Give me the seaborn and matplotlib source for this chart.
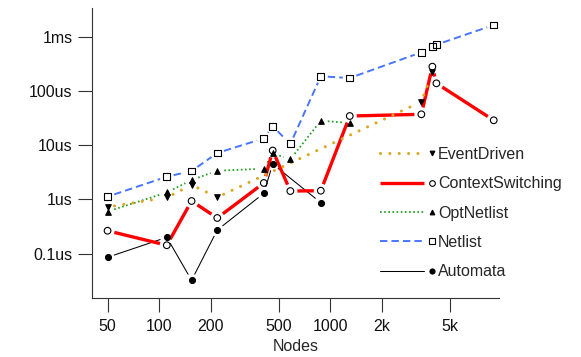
import numpy as np
import matplotlib

matplotlib.use("Agg")
import matplotlib.pyplot as plt
import matplotlib.ticker as mticker
from matplotlib.lines import Line2D
from matplotlib.legend_handler import HandlerLine2DCompound
import seaborn as sns

# simulation step time (microseconds) vs circuit size (nodes)
NODES = [50, 111, 155, 219, 410, 462, 586, 883, 1304, 3420, 3966, 4188, 9060]
NETLIST = [1.12, 2.61, 3.33, 7.15, 13.3, 22.2, 10.5, 186, 173, 515, 665, 712, 1644]
CTX_SWITCH = [0.263, 0.142, 0.93, 0.452, 2.0, 7.95, 1.42, 1.44, 34.4, 37.0, 280, 138, 28.7]
OPT_NODES = [50, 111, 155, 219, 410, 462, 586, 883, 1304]
OPT_NETLIST = [0.595, 1.335, 2.27, 3.37, 3.67, 7.0, 5.47, 28.2, 25.6]
EVENT_NODES = [50, 111, 155, 219, 3420, 3966]
EVENT_DRIVEN = [0.72, 1.08, 1.84, 1.09, 63.2, 226]
AUTOMATA_NODES = [50, 111, 155, 219, 410, 462, 883]
AUTOMATA = [0.0851, 0.199, 0.032, 0.271, 1.29, 4.48, 0.866]

X_TICKS = [50, 100, 200, 500, 1000, 2000, 5000]
X_LABELS = ["50", "100", "200", "500", "1000", "2k", "5k"]
Y_TICKS = [0.1, 1, 10, 100, 1000]
Y_LABELS = ["0.1us", "1us", "10us", "100us", "1ms"]

sns.set_theme(style="ticks")
plt.rcParams["font.family"] = ["Liberation Sans", "DejaVu Sans"]
FS = 11.5

# name -> (x, y, line kwargs, marker kwargs)
SERIES = {
    "EventDriven": (EVENT_NODES, EVENT_DRIVEN,
                    dict(color="#DAA520", lw=2.2, ls=(0, (0.01, 3.05)), dash_capstyle="round"),
                    dict(marker="v", ms=4.0, mfc="black", mec="black")),
    "ContextSwitching": (NODES, CTX_SWITCH,
                         dict(color="#FF0000", lw=2.4, ls="-", solid_capstyle="butt"),
                         dict(marker="o", ms=4.8, mfc="none", mec="black")),
    "OptNetlist": (OPT_NODES, OPT_NETLIST,
                   dict(color="#1E9E1E", lw=1.3, ls=(0, (0.9, 1.4))),
                   dict(marker="^", ms=4.0, mfc="black", mec="black")),
    "Netlist": (NODES, NETLIST,
                dict(color="#4876FF", lw=1.4, ls=(0, (3.8, 2.1))),
                dict(marker="s", ms=5.0, mfc="none", mec="black")),
    "Automata": (AUTOMATA_NODES, AUTOMATA,
                 dict(color="black", lw=0.75, ls="-"),
                 dict(marker="o", ms=4.3, mfc="black", mec="black")),
}

GAP = 7.0  # px left free around each point (R type="b")


def gapped_line(ax, xs, ys, gap, **kw):
    pts = ax.transData.transform(np.column_stack([xs, ys]))
    inv = ax.transData.inverted()
    for p0, p1 in zip(pts[:-1], pts[1:]):
        d = p1 - p0
        length = np.hypot(*d)
        if length <= 2 * gap:
            continue
        u = d / length
        seg = inv.transform(np.vstack([p0 + u * gap, p1 - u * gap]))
        ax.plot(seg[:, 0], seg[:, 1], zorder=2, **kw)


class MarkerAtEnd(HandlerLine2DCompound):
    def get_xdata(self, legend, xdescent, ydescent, width, height, fontsize):
        x0 = -xdescent
        return [x0, x0 + 0.8 * width], [x0 + 0.94 * width]


fig = plt.figure(figsize=(5.81, 3.57), dpi=100)
ax = fig.add_axes([92 / 581, 1 - 298 / 357, 407 / 581, 289.7 / 357])
ax.set_xscale("log")
ax.set_yscale("log")
ax.set_xlim(40.55, 9727)
ax.set_ylim(0.0151, 3342)

handles = []
for name in reversed(list(SERIES)):
    xs, ys, lkw, mkw = SERIES[name]
    gapped_line(ax, xs, ys, GAP, **lkw)
    sns.scatterplot(x=xs, y=ys, ax=ax, marker=mkw["marker"], s=mkw["ms"] ** 2,
                    facecolor=mkw["mfc"], edgecolor=mkw["mec"], linewidth=0.8, zorder=3)
for name, (xs, ys, lkw, mkw) in SERIES.items():
    handles.append(Line2D([], [], label=name, mew=0.8, **lkw, **mkw))

ax.set_xticks(X_TICKS)
ax.set_xticklabels(X_LABELS)
ax.set_yticks(Y_TICKS)
ax.set_yticklabels(Y_LABELS)
ax.xaxis.set_minor_locator(mticker.NullLocator())
ax.yaxis.set_minor_locator(mticker.NullLocator())
ax.tick_params(axis="both", which="major", direction="out", length=10, width=0.8,
               color="#333333", labelsize=FS, labelcolor="#111111", pad=4)
ax.tick_params(axis="x", pad=5)
ax.set_xlabel("Nodes", fontsize=FS, labelpad=4)
ax.set_ylabel("")
sns.despine(ax=ax)
for sp in ("left", "bottom"):
    ax.spines[sp].set_color("#333333")
    ax.spines[sp].set_linewidth(0.8)

ax.legend(handles=handles, handler_map={Line2D: MarkerAtEnd()}, loc="upper left",
          bbox_to_anchor=(0.7076, 0.522), frameon=False, fontsize=FS,
          borderpad=0, borderaxespad=0, handlelength=3.44, handletextpad=0.2,
          labelspacing=0.9, markerscale=0.85)

fig.savefig("out.png", dpi=100)
